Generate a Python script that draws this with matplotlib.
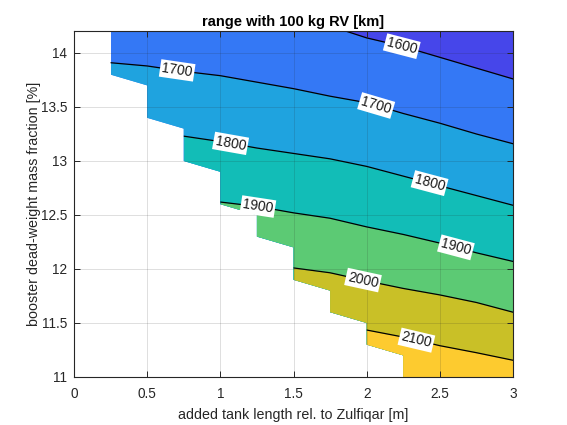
"""
Range contour map (100 kg RV) vs. added tank length and booster dead-weight fraction.
"""

import numpy as np
import matplotlib
matplotlib.use("Agg")
import matplotlib.pyplot as plt
from matplotlib.patches import Polygon
from matplotlib.ticker import FormatStrFormatter

plt.rcParams["font.family"] = ["Liberation Sans", "DejaVu Sans"]

# grid columns (added tank length, m)
x_cols = [0.25, 0.5, 0.75, 1.0, 1.25, 1.5, 1.75, 2.0, 2.25, 2.5, 2.75, 3.0]

# contour levels (km) and where each level crosses each column (dead-weight %)
levels = [1600, 1700, 1800, 1900, 2000, 2100]
nan = np.nan
y_1600 = [nan, nan, nan, nan, nan, nan, 14.25, 14.14, 14.06, 13.96, 13.86, 13.76]
y_1700 = [13.91, 13.88, 13.83, 13.79, 13.73, 13.67, 13.60, 13.54, 13.44, 13.35, 13.25, 13.16]
y_1800 = [nan, nan, 13.23, 13.18, 13.12, 13.07, 13.02, 12.95, 12.86, 12.77, 12.68, 12.59]
y_1900 = [nan, nan, nan, 12.62, 12.58, 12.52, 12.47, 12.39, 12.32, 12.24, 12.15, 12.07]
y_2000 = [nan, nan, nan, nan, nan, 12.01, 11.965, 11.89, 11.82, 11.76, 11.69, 11.60]
y_2100 = [nan, nan, nan, nan, nan, nan, nan, 11.435, 11.37, 11.29, 11.225, 11.155]
level_lines = [y_1600, y_1700, y_1800, y_1900, y_2000, y_2100]

# lowest feasible dead-weight fraction per column (grid step 0.1 %)
y_min_ok = [13.8, 13.4, 13.0, 12.6, 12.3, 11.9, 11.6, 11.3, 11.0, 11.0, 11.0, 11.0]
y_step = 0.1

# clabel placement (level, x)
label_levels = [1700, 1600, 1700, 1800, 1800, 1900, 1900, 2000, 2100]
label_x = [0.705, 2.24, 2.065, 1.07, 2.43, 1.257, 2.61, 1.975, 2.34]

# band colours, from "above 1600" down to "below 2100"
band_colors = ["#4646EA", "#3478F5", "#1FA3DF", "#12BDB7", "#5CCA74", "#C9C027", "#FDCB2F"]

XLIM = (0, 3)
YLIM = (11, 14.2)
TXT = "#262626"

fig = plt.figure(figsize=(5.67, 4.25), dpi=100)
ax = fig.add_axes([74 / 567, 48 / 425, 439 / 567, 345.6 / 425])
ax.set_xlim(*XLIM)
ax.set_ylim(*YLIM)

# feasible region outline (MATLAB cuts the NaN cells diagonally)
verts = [(x_cols[0], YLIM[1] + 1)]
for i, (xc, ym) in enumerate(zip(x_cols, y_min_ok)):
    verts.append((xc, ym))
    if i + 1 < len(x_cols):
        verts.append((x_cols[i + 1], max(y_min_ok[i + 1], ym - y_step)))
verts.append((x_cols[-1], YLIM[1] + 1))
clip = Polygon(verts, closed=True, transform=ax.transData)

x = np.array(x_cols)
artists = []
# base band between 1600 and 1700
artists.append(ax.fill_between(x, YLIM[0] - 1, YLIM[1] + 1, color=band_colors[1], lw=0))
# above 1600
y16 = np.array(y_1600)
ok = ~np.isnan(y16)
artists.append(ax.fill_between(x[ok], y16[ok], YLIM[1] + 1, color=band_colors[0], lw=0))
# below each level from 1700 on
for k in range(1, len(levels)):
    yl = np.array(level_lines[k])
    ok = ~np.isnan(yl)
    artists.append(ax.fill_between(x[ok], YLIM[0] - 1, yl[ok], color=band_colors[k + 1], lw=0))
for yl in level_lines:
    artists += ax.plot(x, yl, color="black", lw=0.9)
for a in artists:
    a.set_clip_path(clip)

# contour labels
for lev, lx in zip(label_levels, label_x):
    yl = np.array(level_lines[levels.index(lev)])
    ok = ~np.isnan(yl)
    xs, ys = x[ok], yl[ok]
    ly = np.interp(lx, xs, ys)
    p0 = ax.transData.transform((lx - 0.05, np.interp(lx - 0.05, xs, ys)))
    p1 = ax.transData.transform((lx + 0.05, np.interp(lx + 0.05, xs, ys)))
    ang = np.degrees(np.arctan2(p1[1] - p0[1], p1[0] - p0[0]))
    ax.text(lx, ly, str(lev), rotation=ang, rotation_mode="anchor",
            ha="center", va="center", fontsize=10, color="#1a1a1a", zorder=5,
            bbox=dict(facecolor="white", edgecolor="none", pad=1.3))

ax.set_xticks(np.arange(0, 3.01, 0.5))
ax.set_yticks(np.arange(11, 14.01, 0.5))
ax.xaxis.set_major_formatter(FormatStrFormatter("%g"))
ax.yaxis.set_major_formatter(FormatStrFormatter("%g"))
ax.tick_params(direction="in", top=True, right=True, length=4, width=0.7,
               colors=TXT, labelsize=9.8)
ax.tick_params(axis="x", pad=7)
ax.tick_params(axis="y", pad=5)
ax.grid(True, color="#262626", alpha=0.15, lw=0.7)
ax.set_axisbelow(False)
for s in ax.spines.values():
    s.set_color(TXT)
    s.set_linewidth(0.8)
    s.set_zorder(6)

ax.set_title("range with 100 kg RV [km]", fontsize=10.5, fontweight="bold", color="black", pad=4)
ax.set_xlabel("added tank length rel. to Zulfiqar [m]", fontsize=10.3, color=TXT, labelpad=5)
ax.set_ylabel("booster dead-weight mass fraction [%]", fontsize=10.3, color=TXT, labelpad=0)

fig.savefig("out.png", dpi=100)
